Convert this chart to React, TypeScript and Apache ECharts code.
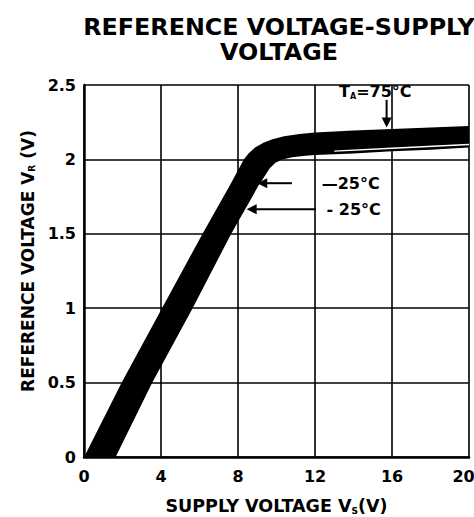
import React, { useEffect, useRef } from "react";
import * as echarts from "echarts";

// Upper/left edge of the drawn band (75°C side)
const upperVS = [0.05, 2.0, 4.1, 6.2, 7.6, 8.35, 8.6, 8.9, 9.3, 9.8, 10.4, 11.2, 12, 14, 16, 18, 20];
const upperVR = [0, 0.5, 1.0, 1.5, 1.82, 2.0, 2.04, 2.075, 2.105, 2.13, 2.15, 2.165, 2.175, 2.19, 2.2, 2.21, 2.22];
// Lower/right edge of the drawn band (-25°C side)
const lowerVS = [1.6, 3.5, 5.6, 7.6, 8.7, 9.0, 9.3, 9.6, 9.9, 10.3, 10.8, 11.5, 12, 14, 16, 18, 20];
const lowerVR = [0, 0.5, 1.0, 1.5, 1.75, 1.82, 1.88, 1.94, 1.98, 2.005, 2.02, 2.03, 2.035, 2.045, 2.06, 2.07, 2.085];
// thin split visible inside the band at the right
const splitVS = [13, 16, 20];
const splitVR = [2.055, 2.075, 2.1];

const xTicks = [0, 4, 8, 12, 16, 20];
const yTicks = [0, 0.5, 1, 1.5, 2, 2.5];

// Annotations
const tempLabels = ["—25°C", "- 25°C"];
const tempLabelVS = [12.35, 12.6];
const tempLabelVR = [1.84, 1.665];
const leaderEndVS = [10.8, 12.05];
const arrowTipVS = [9.0, 8.45];
const taArrowVS = 15.72;
const taArrowTopVR = 2.4;
const taArrowTipVR = 2.215;
const taLabelVS = 13.25;
const taLabelVR = 2.455;

const FONT = "DejaVu Sans";

export default function App() {
  const ref = useRef<HTMLDivElement>(null);
  useEffect(() => {
    if (!ref.current) return;
    const chart = echarts.init(ref.current, null, { renderer: "svg" });
    const upper = upperVS.map((v, i) => [v, upperVR[i]]);
    const lower = lowerVS.map((v, i) => [v, lowerVR[i]]);
    const split = splitVS.map((v, i) => [v, splitVR[i]]);
    const xMax = xTicks[xTicks.length - 1];

    chart.setOption({
      animation: false,
      backgroundColor: "#fff",
      title: {
        text: "REFERENCE VOLTAGE-SUPPLY\nVOLTAGE",
        left: 274,
        top: 9,
        textAlign: "center",
        textStyle: {
          fontFamily: FONT,
          fontWeight: "bold",
          fontSize: 23.8,
          lineHeight: 25.5,
          color: "#000",
        },
      },
      grid: { left: 84, right: 5, top: 85, bottom: 60, outerBoundsMode: "none", containLabel: false },
      xAxis: {
        type: "value",
        min: xTicks[0],
        max: xMax,
        interval: 4,
        name: "SUPPLY VOLTAGE V{sub|S}(V)",
        nameLocation: "middle",
        nameGap: 40,
        nameTextStyle: {
          fontFamily: FONT,
          fontWeight: "bold",
          fontSize: 17.5,
          color: "#000",
          rich: {
            sub: { fontFamily: FONT, fontWeight: "bold", fontSize: 9, verticalAlign: "bottom", color: "#000" },
          },
        },
        axisLine: { show: true, lineStyle: { color: "#000", width: 2.5 } },
        axisTick: { show: false },
        axisLabel: {
          fontFamily: FONT,
          fontWeight: "bold",
          fontSize: 16,
          color: "#000",
          margin: 11,
          formatter: (v: number) => (v === xMax ? `{last|${v}}` : `${v}`),
          rich: {
            last: { fontFamily: FONT, fontWeight: "bold", fontSize: 16, color: "#000", padding: [0, 11, 0, 0] },
          },
        },
        splitLine: { show: true, lineStyle: { color: "#000", width: 1.6 } },
      },
      yAxis: {
        type: "value",
        min: yTicks[0],
        max: yTicks[yTicks.length - 1],
        interval: 0.5,
        name: "REFERENCE VOLTAGE V{sub|R} (V)",
        nameLocation: "middle",
        nameRotate: 90,
        nameGap: 42,
        nameTextStyle: {
          fontFamily: FONT,
          fontWeight: "bold",
          fontSize: 17,
          color: "#000",
          padding: [0, 0, 0, 20],
          rich: {
            sub: { fontFamily: FONT, fontWeight: "bold", fontSize: 9, verticalAlign: "bottom", color: "#000" },
          },
        },
        axisLine: { show: true, lineStyle: { color: "#000", width: 2.5 } },
        axisTick: { show: false },
        axisLabel: {
          fontFamily: FONT,
          fontWeight: "bold",
          fontSize: 16,
          color: "#000",
          margin: 8,
          padding: [6, 0, 0, 0],
        },
        splitLine: { show: true, lineStyle: { color: "#000", width: 1.6 } },
      },
      series: [
        {
          type: "custom",
          name: "band",
          data: [[0, 0]],
          clip: true,
          renderItem: (params: any, api: any) => {
            const pts = [
              ...upper.map((p) => api.coord(p)),
              ...lower.slice().reverse().map((p) => api.coord(p)),
            ];
            return {
              type: "polygon",
              shape: { points: pts },
              style: { fill: "#000", stroke: "#000", lineWidth: 1.5, lineJoin: "round" },
            };
          },
        },
        {
          type: "line",
          data: split,
          symbol: "none",
          smooth: true,
          lineStyle: { color: "#fff", width: 1.3 },
        },
        {
          type: "custom",
          name: "annotations",
          data: tempLabels.map((_, i) => [tempLabelVS[i], tempLabelVR[i]]),
          renderItem: (params: any, api: any) => {
            const i = params.dataIndex;
            const y = tempLabelVR[i];
            const e = api.coord([leaderEndVS[i], y]);
            const tip = api.coord([arrowTipVS[i], y]);
            const lab = api.coord([tempLabelVS[i], y]);
            const children: any[] = [
              {
                type: "line",
                shape: { x1: tip[0] + 6, y1: tip[1], x2: e[0], y2: e[1] },
                style: { stroke: "#000", lineWidth: 2 },
              },
              {
                type: "polygon",
                shape: {
                  points: [
                    [tip[0], tip[1]],
                    [tip[0] + 10, tip[1] - 5],
                    [tip[0] + 10, tip[1] + 5],
                  ],
                },
                style: { fill: "#000" },
              },
              {
                type: "text",
                x: lab[0],
                y: lab[1],
                style: {
                  text: tempLabels[i],
                  fontFamily: FONT,
                  fontWeight: "bold",
                  fontSize: 16,
                  fill: "#000",
                  align: "left",
                  verticalAlign: "middle",
                },
              },
            ];
            if (i === 0) {
              const a1 = api.coord([taArrowVS, taArrowTopVR]);
              const a2 = api.coord([taArrowVS, taArrowTipVR]);
              const tl = api.coord([taLabelVS, taLabelVR]);
              children.push(
                {
                  type: "line",
                  shape: { x1: a1[0], y1: a1[1], x2: a2[0], y2: a2[1] - 6 },
                  style: { stroke: "#000", lineWidth: 2 },
                },
                {
                  type: "polygon",
                  shape: {
                    points: [
                      [a2[0], a2[1]],
                      [a2[0] - 5, a2[1] - 10],
                      [a2[0] + 5, a2[1] - 10],
                    ],
                  },
                  style: { fill: "#000" },
                },
                {
                  type: "text",
                  x: tl[0],
                  y: tl[1],
                  style: {
                    text: "{t|T}{s|A}{t|=75°C}",
                    align: "left",
                    verticalAlign: "middle",
                    rich: {
                      t: { fontFamily: FONT, fontWeight: "bold", fontSize: 16, fill: "#000", lineHeight: 18 },
                      s: { fontFamily: FONT, fontWeight: "bold", fontSize: 8, fill: "#000", verticalAlign: "bottom", lineHeight: 18 },
                    },
                  },
                }
              );
            }
            return { type: "group", children };
          },
        },
      ],
    });
    return () => chart.dispose();
  }, []);
  return (
    <div
      ref={ref}
      style={{ position: "fixed", left: 0, top: 0, width: 474, height: 517, background: "#fff" }}
    />
  );
}
